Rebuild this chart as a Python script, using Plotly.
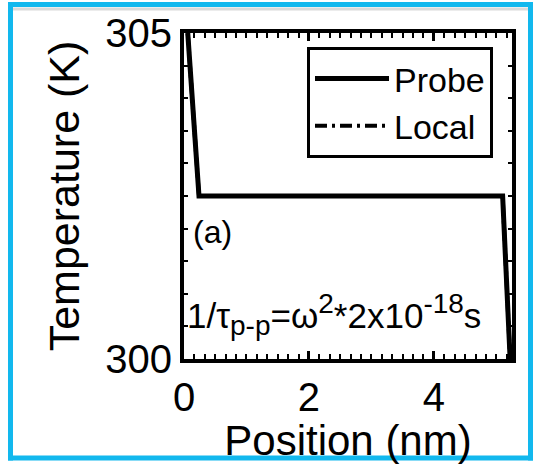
import plotly.graph_objects as go

# ---- data ----
probe_pos = [0.06, 0.24, 5.10, 5.22]
probe_temp = [305.0, 302.5, 302.5, 300.0]
local_pos = [0.06, 0.24, 5.10, 5.22]
local_temp = [305.0, 302.5, 302.5, 300.0]

x_ticks = [0, 2, 4]
y_ticks = [300, 305]
x_range = [0, 5.25]
y_range = [300, 305]

W, H = 538, 464
L, R, T, B = 184, 26, 33, 105
PW, PH = W - L - R, H - T - B


def px(xp):
    return (xp - L) / PW


def py(yp):
    return (H - B - yp) / PH


FONT = "Arial, Liberation Sans, sans-serif"

fig = go.Figure()
fig.add_trace(go.Scatter(x=local_pos, y=local_temp, mode="lines", name="Local",
                         line=dict(color="black", width=4, dash="12px,5px,3px,5px"),
                         showlegend=True, legendrank=2))
fig.add_trace(go.Scatter(x=probe_pos, y=probe_temp, mode="lines", name="Probe",
                         line=dict(color="black", width=5),
                         legendrank=1))

fig.update_xaxes(range=x_range, tickmode="array", tickvals=x_ticks, ticktext=[str(v) for v in x_ticks],
                 showline=True, linecolor="black", linewidth=4, mirror="allticks",
                 ticks="inside", ticklen=8, tickwidth=3, tickcolor="black",
                 showgrid=False, zeroline=False, automargin=False,
                 tickfont=dict(family=FONT, size=40, color="black"),
                 title=dict(text="Position (nm)", font=dict(family=FONT, size=42, color="black"), standoff=0),
                 minor=dict(dtick=1/6, tick0=0, ticks="inside", ticklen=5,
                            tickwidth=2, tickcolor="black", showgrid=False))
fig.update_yaxes(range=y_range, tickmode="array", tickvals=y_ticks, ticktext=[str(v) for v in y_ticks],
                 showline=True, linecolor="black", linewidth=4, mirror="allticks",
                 ticks="inside", ticklen=8, tickwidth=3, tickcolor="black",
                 showgrid=False, zeroline=False, automargin=False,
                 tickfont=dict(family=FONT, size=40, color="black"),
                 title=dict(text="Temperature (K)", font=dict(family=FONT, size=43, color="black"), standoff=13),
                 minor=dict(dtick=0.5, ticks="inside", ticklen=4, tickwidth=2,
                            tickcolor="black", showgrid=False))

fig.add_annotation(x=px(191), y=py(232), xref="paper", yref="paper", text="(a)",
                   showarrow=False, xanchor="left", yanchor="middle",
                   font=dict(family=FONT, size=32, color="black"))
fig.add_annotation(x=px(185), y=py(314), xref="paper", yref="paper",
                   text="1/τ<sub><span style='font-size:28px'>p-p</span></sub>=ω<sup><span style='font-size:28px'>2</span></sup>*2x10<sup><span style='font-size:28px'>-18</span></sup>s",
                   showarrow=False, xanchor="left", yanchor="middle",
                   font=dict(family=FONT, size=35, color="black"))

# frame around the figure
FRAME = "#12B8EE"
for (xa, ya, xb, yb) in [(8, 4.5, 533, 4.5), (8, 458, 533, 458),
                         (10.5, 2, 10.5, 460.5), (530.5, 2, 530.5, 460.5)]:
    fig.add_shape(type="line", xref="paper", yref="paper",
                  x0=px(xa), x1=px(xb), y0=py(ya), y1=py(yb),
                  line=dict(color=FRAME, width=5), layer="below")
fig.add_shape(type="line", xref="paper", yref="paper",
              x0=px(13), x1=px(528), y0=py(9), y1=py(9),
              line=dict(color="#DADADA", width=3), layer="below")

fig.update_layout(
    width=W, height=H,
    margin=dict(l=L, r=R, t=T, b=B, autoexpand=False),
    paper_bgcolor="white", plot_bgcolor="white",
    font=dict(family=FONT, color="black"),
    legend=dict(x=px(307), y=py(47), xanchor="left", yanchor="top",
                bgcolor="white", bordercolor="black", borderwidth=3,
                font=dict(family=FONT, size=34, color="black"),
                itemwidth=74, tracegroupgap=0),
)

fig.write_html("out.html", config={"displayModeBar": False},
               post_script="document.body.style.margin='0';document.body.style.overflow='hidden';")
